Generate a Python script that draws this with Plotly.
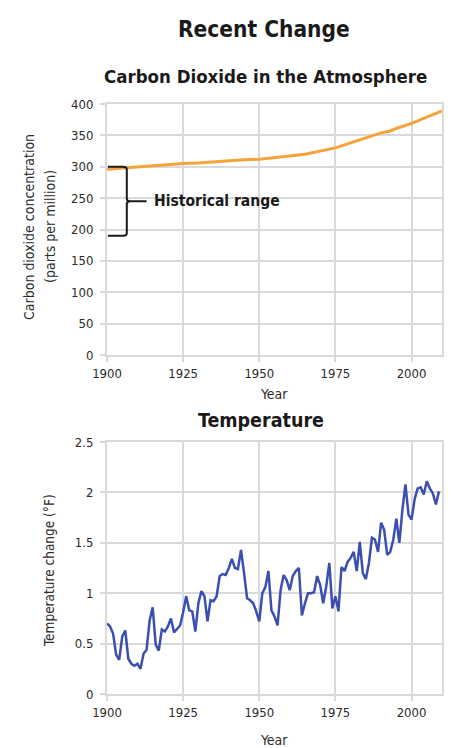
import plotly.graph_objects as go
from plotly.subplots import make_subplots

# ---- data ----
co2_years = [1900, 1905, 1910, 1915, 1920, 1925, 1930, 1935, 1940, 1945, 1950, 1955,
             1960, 1965, 1970, 1975, 1980, 1985, 1990, 1993, 1995, 2000, 2005, 2010]
co2_ppm = [296, 298, 300, 301, 303, 305, 306, 308, 310, 311, 312, 314,
           317, 320, 325, 330, 338, 346, 354, 357, 361, 369, 379, 389]

temp_years = list(range(1900, 2010))
temp_change = [0.70, 0.67, 0.60, 0.39, 0.34, 0.57, 0.63, 0.35, 0.30, 0.28,
               0.30, 0.25, 0.40, 0.44, 0.73, 0.86, 0.49, 0.43, 0.64, 0.62,
               0.67, 0.75, 0.61, 0.64, 0.68, 0.81, 0.97, 0.83, 0.82, 0.62,
               0.90, 1.02, 0.97, 0.72, 0.93, 0.92, 0.97, 1.17, 1.19, 1.18,
               1.25, 1.34, 1.25, 1.24, 1.43, 1.20, 0.95, 0.93, 0.90, 0.82,
               0.72, 1.00, 1.06, 1.22, 0.83, 0.77, 0.68, 1.03, 1.18, 1.13,
               1.03, 1.17, 1.22, 1.25, 0.78, 0.90, 1.00, 1.00, 1.01, 1.17,
               1.08, 0.90, 1.07, 1.30, 0.85, 0.97, 0.82, 1.26, 1.22, 1.31,
               1.35, 1.41, 1.22, 1.51, 1.20, 1.14, 1.30, 1.55, 1.53, 1.41,
               1.70, 1.63, 1.38, 1.41, 1.53, 1.74, 1.50, 1.83, 2.08, 1.78,
               1.73, 1.93, 2.04, 2.05, 1.98, 2.11, 2.04, 1.99, 1.88, 2.01]

x_ticks = [1900, 1925, 1950, 1975, 2000]
co2_ticks = [0, 50, 100, 150, 200, 250, 300, 350, 400]
temp_ticks = [0, 0.5, 1, 1.5, 2, 2.5]
temp_tick_labels = ["0", "0.5", "1", "1.5", "2", "2.5"]

hist_low, hist_high = 190, 300
hist_label = "Historical range"

FONT = "DejaVu Sans Condensed, DejaVu Sans, sans-serif"
GRID = "#dadada"
TXT = "#2b2b2b"
DARK = "#1a1a1a"

W, H = 455, 748
L, R = 107, 13
PW = W - L - R

def px_x(px):
    return (px - L) / PW

def px_y(py):
    return 1 - py / H

fig = make_subplots(rows=2, cols=1)

fig.add_trace(go.Scatter(x=co2_years, y=co2_ppm, mode="lines",
                         line=dict(color="#f7a23a", width=3), showlegend=False,
                         hoverinfo="skip"),
              row=1, col=1)
fig.add_trace(go.Scatter(x=temp_years, y=temp_change, mode="lines",
                         line=dict(color="#3c4fb1", width=2.5), showlegend=False,
                         hoverinfo="skip"),
              row=2, col=1)

axis_common = dict(showgrid=True, gridcolor=GRID, gridwidth=2,
                   showline=True, linecolor=GRID, linewidth=2, mirror=True,
                   ticks="outside", ticklen=5, tickcolor=GRID, tickwidth=2,
                   tickfont=dict(family=FONT, size=13, color=TXT), zeroline=False,
                   fixedrange=True, automargin=False)

fig.update_xaxes(range=[1900, 2010], tickvals=x_ticks, **axis_common)
fig.update_yaxes(ticklabelstandoff=4)
fig.update_layout(
    xaxis=dict(domain=[0, 1]),
    xaxis2=dict(domain=[0, 1]),
    yaxis=dict(domain=[px_y(355), px_y(104)], range=[0, 400], tickvals=co2_ticks,
               **axis_common),
    yaxis2=dict(domain=[px_y(694), px_y(442)], range=[0, 2.5], tickvals=temp_ticks,
                ticktext=temp_tick_labels, **axis_common),
    width=W, height=H,
    margin=dict(l=L, r=R, t=0, b=0, autoexpand=False),
    paper_bgcolor="white", plot_bgcolor="white",
    showlegend=False, hovermode=False,
)

def text(t, xpx, ypx, size, bold=False, angle=0, color=DARK):
    fig.add_annotation(text=("<b>%s</b>" % t) if bold else t,
                       xref="paper", yref="paper", x=px_x(xpx), y=px_y(ypx),
                       xanchor="center", yanchor="middle", showarrow=False,
                       textangle=angle, font=dict(family=FONT, size=size, color=color))

# titles
text("Recent Change", 264, 29, 22.5, bold=True)
text("Carbon Dioxide in the Atmosphere", 265.5, 77, 18.5, bold=True)
text("Temperature", 261, 420, 19.5, bold=True)

# axis titles
text("Year", 274, 394, 14, color=TXT)
text("Year", 274, 740, 14, color=TXT)
text("Carbon dioxide concentration", 29, 227, 14, angle=-90, color=TXT)
text("(parts per million)", 50, 227, 14, angle=-90, color=TXT)
text("Temperature change (°F)", 49, 570, 13.5, angle=-90, color=TXT)

# curly brace marking the historical range
mid = (hist_low + hist_high) / 2
x0, xb, xp = 1900.3, 1906.5, 1913.0
r = 4
path = (f"M {x0},{hist_high} L {xb-1.2},{hist_high} Q {xb},{hist_high} {xb},{hist_high-r} "
        f"L {xb},{mid+r} Q {xb},{mid} {xb+1.2},{mid} L {xp},{mid} "
        f"M {xb+1.2},{mid} Q {xb},{mid} {xb},{mid-r} "
        f"L {xb},{hist_low+r} Q {xb},{hist_low} {xb-1.2},{hist_low} L {x0},{hist_low}")
fig.add_shape(type="path", path=path, xref="x", yref="y",
              line=dict(color=DARK, width=2))
fig.add_annotation(text="<b>%s</b>" % hist_label, xref="x", yref="y",
                   x=1914.8, y=mid, xanchor="left", yanchor="middle", showarrow=False,
                   font=dict(family=FONT, size=15.5, color=DARK))

fig.write_html("out.html", config={"displayModeBar": False},
               post_script="document.body.style.margin='0';document.body.style.overflow='hidden';")
